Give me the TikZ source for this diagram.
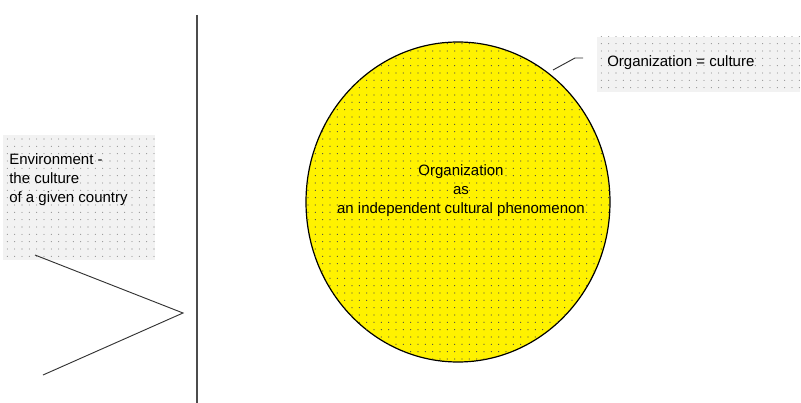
\documentclass[tikz,border=0pt]{standalone}
\usepackage{fontspec}
\setmainfont{Liberation Sans}
\usetikzlibrary{patterns.meta,shapes.geometric}

\begin{document}
\begin{tikzpicture}[x=0.75pt, y=-0.75pt,
    font=\fontsize{11.25}{14.25}\selectfont,
    dotbox/.style={fill=black!5, postaction={pattern={Dots[distance=5.5pt,radius=0.4pt]}, pattern color=black!50}},
    orgfill/.style={fill=yellow, postaction={pattern={Dots[distance=5.5pt,radius=0.45pt]}, pattern color=black!70}},
    txt/.style={inner sep=0pt, align=left}]
    \useasboundingbox (0,0) rectangle (801,403);
    % the border between environment and organization
    \coordinate (top) at (197,15);
    \coordinate (bot) at (197,403);
    \draw[black!70, line width=0.9pt] (top) -- (bot);
    % environment
    \fill[dotbox] (3,135) rectangle (155,260);
    \node[txt, anchor=north west] (env) at (9,153) {Environment -\\the culture\\of a given country};
    \coordinate (tail) at (35,255);
    \coordinate (tip) at (183,313);
    \coordinate (end) at (43,375);
    \draw[black!80, line width=0.7pt] (tail) -- (tip) -- (end);
    % organization
    \node[ellipse, draw, line width=0.9pt, orgfill, minimum width=228pt, minimum height=240pt] (org) at (458,202) {};
    \node[align=center, inner sep=0pt] (orgtxt) at (461,191) {Organization\\as\\an independent cultural phenomenon};
    \fill[dotbox] (597,37) rectangle (800,92);
    \node[txt, anchor=west] (eq) at (607,63) {Organization = culture};
    \coordinate (lead) at (553,70);
    \coordinate (bend) at (575,58);
    \coordinate (lend) at (583,58);
    \draw[black!80, line width=0.7pt] (lead) -- (bend) -- (lend);
\end{tikzpicture}
\end{document}
